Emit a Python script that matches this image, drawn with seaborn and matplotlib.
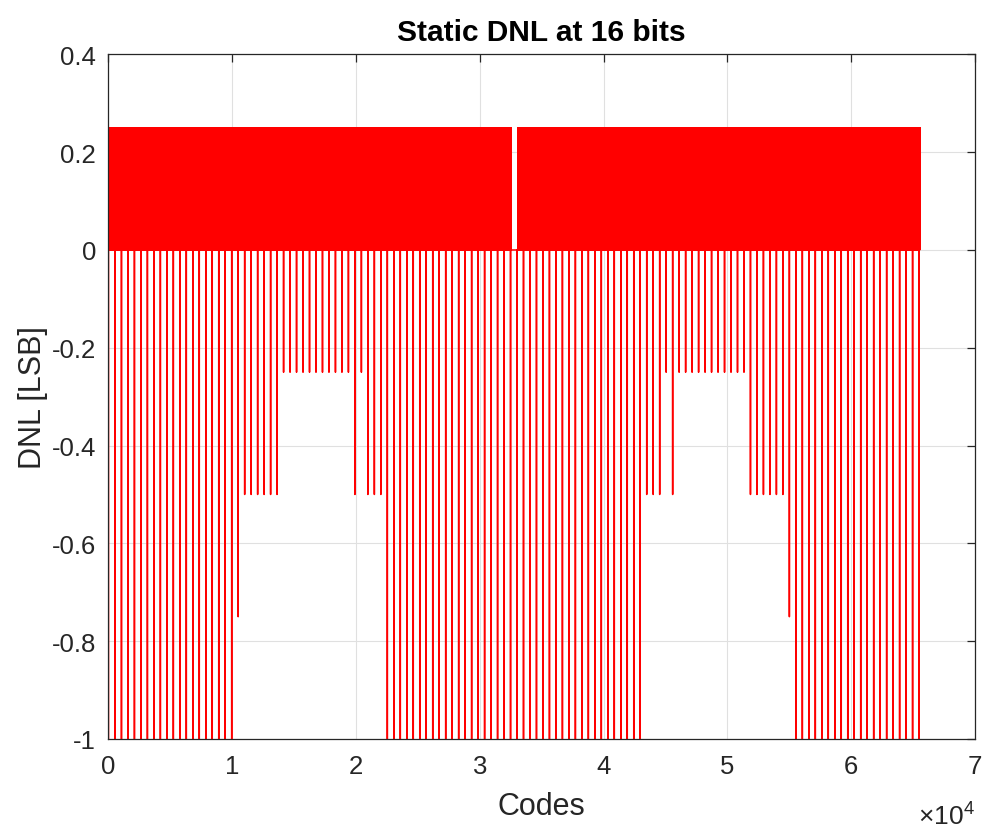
import numpy as np
import pandas as pd
import matplotlib
matplotlib.use("Agg")
import matplotlib.pyplot as plt
import seaborn as sns

# ---- data -------------------------------------------------------------
n_codes = 65536
# per-code DNL inside the dense band alternates between these two levels
band_levels = [0.25, 0.0]
# codes around mid-scale where the DNL sits flat at zero
flat_span = [32540, 33100]
# missing-code spikes, one every spike_step codes starting at code 0
spike_step = 524
spike_counts = [20, 1, 6, 11, 1, 1, 3, 40, 3, 1, 1, 11, 6, 1, 20]
spike_levels = [-1.0, -0.75, -0.5, -0.25, -0.5, -0.25, -0.5, -1.0,
                -0.5, -0.25, -0.5, -0.25, -0.5, -0.75, -1.0]

x_ticks = [0, 10000, 20000, 30000, 40000, 50000, 60000, 70000]
x_tick_labels = ["0", "1", "2", "3", "4", "5", "6", "7"]
y_ticks = [-1.0, -0.8, -0.6, -0.4, -0.2, 0.0, 0.2, 0.4]
y_tick_labels = ["-1", "-0.8", "-0.6", "-0.4", "-0.2", "0", "0.2", "0.4"]

# ---- assemble the DNL trace -----------------------------------------
codes = np.arange(n_codes)
dnl = np.resize(np.array(band_levels), n_codes).astype(float)
dnl[flat_span[0]:flat_span[1]] = 0.0
spike_depth = np.repeat(spike_levels, spike_counts)
spike_codes = np.arange(len(spike_depth)) * spike_step
dnl[spike_codes] = spike_depth
df = pd.DataFrame({"Codes": codes, "DNL": dnl})

# ---- styling ----------------------------------------------------------
sns.set_theme(style="whitegrid")
plt.rcParams["font.family"] = ["Liberation Sans", "DejaVu Sans"]
plt.rcParams["mathtext.fontset"] = "custom"
plt.rcParams["mathtext.rm"] = "Liberation Sans"
plt.rcParams["path.simplify"] = False
plt.rcParams["agg.path.chunksize"] = 20000

ink = "#262626"
fig = plt.figure(figsize=(9.89, 8.29), dpi=100)
ax = fig.add_axes([0.1097, 0.1074, 0.8759, 0.8258])
ax.set_facecolor("white")

sns.lineplot(data=df, x="Codes", y="DNL", estimator=None, sort=False,
             color="#ff0000", linewidth=1.1, ax=ax)

ax.set_xlim(0, 70000)
ax.set_ylim(-1, 0.4)
ax.set_xticks(x_ticks)
ax.set_xticklabels(x_tick_labels)
ax.set_yticks(y_ticks)
ax.set_yticklabels(y_tick_labels)

ax.grid(True, color="#e0e0e0", linewidth=0.8)
ax.set_axisbelow(True)
for s in ax.spines.values():
    s.set_visible(True)
    s.set_color(ink)
    s.set_linewidth(0.9)
ax.tick_params(axis="both", which="both", direction="in", length=6,
               width=0.9, color=ink, labelcolor=ink, labelsize=18.5,
               top=True, right=True)
ax.tick_params(axis="x", pad=11)
ax.tick_params(axis="y", pad=9)

ax.set_xlabel("Codes", fontsize=22, color=ink, labelpad=9)
ax.set_ylabel("DNL [LSB]", fontsize=22, color=ink)
ax.yaxis.set_label_coords(-0.07, 0.5)
ax.set_title("Static DNL at 16 bits", fontsize=21.5, fontweight="bold",
             color="black", pad=10)
ax.text(1.0, -0.09, r"$\times10^{4}$", transform=ax.transAxes,
        ha="right", va="top", fontsize=19, color=ink)

fig.savefig("out.png", dpi=100, facecolor="white")
